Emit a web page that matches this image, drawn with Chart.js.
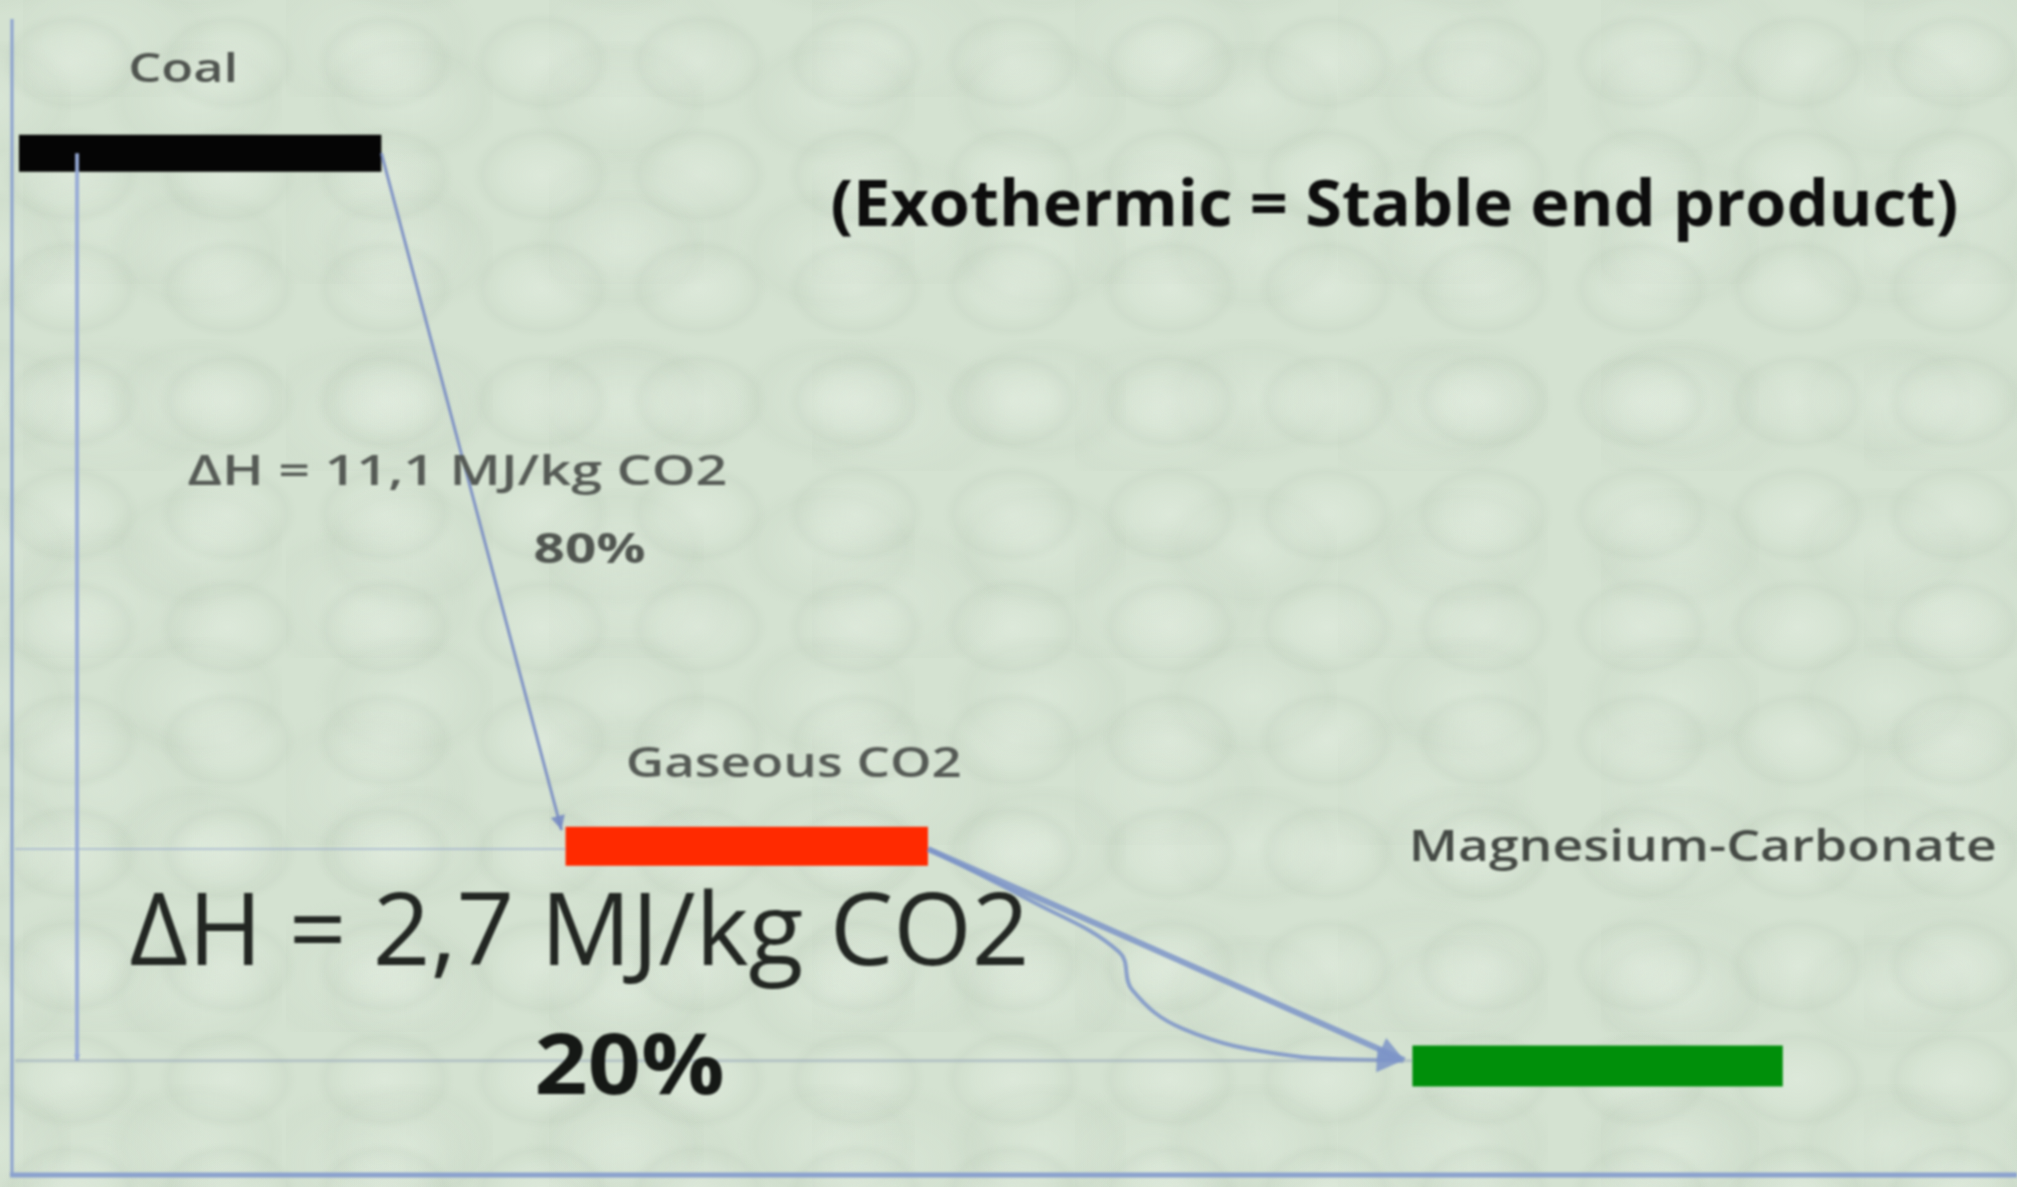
<!DOCTYPE html>
<html lang="en">
<head>
    <meta charset="UTF-8">
    <title>Energy levels</title>
    <script src="https://cdn.jsdelivr.net/npm/chart.js"></script>
    <style>
        body {
            margin: 0;
            padding: 0;
            overflow: hidden;
            background-color: #d4e2d1;
            background-image:
                radial-gradient(ellipse 70px 50px at 45% 55%, rgba(236, 244, 234, 0.35) 0%, rgba(236, 244, 234, 0.1) 55%, rgba(150, 168, 148, 0.08) 85%, transparent 100%),
                radial-gradient(ellipse 95px 65px at 60% 40%, rgba(232, 242, 230, 0.28) 0%, rgba(160, 178, 158, 0.07) 80%, transparent 100%),
                radial-gradient(ellipse 120px 80px at 30% 70%, rgba(228, 238, 226, 0.22) 0%, rgba(165, 180, 162, 0.06) 80%, transparent 100%);
            background-size: 157px 113px, 211px 149px, 263px 187px;
            background-position: 0 0, 71px 41px, 23px 97px;
        }

        #wrap {
            position: relative;
            width: 2017px;
            height: 1187px;
        }

        canvas {
            filter: blur(1.2px);
        }
    </style>
</head>
<body>
    <div id="wrap"><canvas id="diagrama"></canvas></div>

    <script>
        // niveis de energia (eixo y arbitrario, 0 = carbonato)
        var levelNames = ['Coal', 'Gaseous CO2', 'Magnesium-Carbonate'];
        var levelEnergy = [14.0, 3.37, 0.0];
        var levelStart = [0.2, 27.5, 69.8];
        var levelEnd = [18.3, 45.6, 88.3];
        var deltaH = ['11,1', '2,7'];
        var shares = ['80%', '20%'];

        // caminho curvo CO2 -> carbonato
        var curveX = [45.65, 50.65, 55.15, 55.8, 58.35, 63.5, 69.3];
        var curveY = [3.33, 2.55, 1.75, 1.17, 0.57, 0.17, 0.08];

        var barColors = ['#050505', '#ff2a00', '#008f0a'];
        var barWidths = [37, 39, 41];
        var lineBlue = 'rgba(120, 140, 195, 0.9)';

        var datasets = [];

        // linhas de referencia
        datasets.push({
            data: [{ x: 0, y: levelEnergy[1] - 0.04 }, { x: levelStart[1], y: levelEnergy[1] - 0.04 }],
            borderColor: 'rgba(150, 170, 205, 0.55)', borderWidth: 2
        });
        datasets.push({
            data: [{ x: 0, y: levelEnergy[2] + 0.08 }, { x: levelStart[2], y: levelEnergy[2] + 0.08 }],
            borderColor: 'rgba(150, 165, 185, 0.5)', borderWidth: 3
        });

        // seta vertical (delta H total)
        datasets.push({
            data: [{ x: 3.1, y: levelEnergy[0] }, { x: 3.1, y: levelEnergy[2] + 0.08 }],
            borderColor: 'rgba(150, 170, 215, 0.95)', borderWidth: 4, arrow: 4
        });

        // carvao -> CO2
        datasets.push({
            data: [{ x: levelEnd[0], y: levelEnergy[0] }, { x: levelStart[1] - 0.2, y: levelEnergy[1] + 0.25 }],
            borderColor: lineBlue, borderWidth: 3, arrow: 9
        });

        // CO2 -> carbonato (reta)
        datasets.push({
            data: [{ x: levelEnd[1], y: levelEnergy[1] - 0.04 }, { x: levelStart[2] - 0.4, y: levelEnergy[2] + 0.09 }],
            borderColor: 'rgba(125, 148, 200, 0.85)', borderWidth: 6, arrow: 16
        });

        // CO2 -> carbonato (curva)
        datasets.push({
            data: curveX.map(function(x, i) { return { x: x, y: curveY[i] }; }),
            borderColor: 'rgba(125, 148, 200, 0.85)', borderWidth: 4, tension: 0.4, arrow: 16
        });

        // barras dos niveis
        levelNames.forEach(function(nome, i) {
            datasets.push({
                label: nome,
                data: [{ x: levelStart[i], y: levelEnergy[i] }, { x: levelEnd[i], y: levelEnergy[i] }],
                borderColor: barColors[i], borderWidth: barWidths[i], borderCapStyle: 'butt'
            });
        });

        datasets.forEach(function(d) {
            d.showLine = true;
            d.pointRadius = 0;
            d.fill = false;
            d.clip = false;
        });

        function fitText(ctx, texto, cx, cy, size, weight, color, largura) {
            ctx.save();
            ctx.font = weight + ' ' + size + 'px "Open Sans", sans-serif';
            ctx.fillStyle = color;
            ctx.textAlign = 'center';
            ctx.textBaseline = 'middle';
            var w = ctx.measureText(texto).width;
            ctx.translate(cx, cy);
            ctx.scale(largura / w, 1);
            ctx.fillText(texto, 0, 0);
            ctx.restore();
        }

        var extras = {
            id: 'extras',
            beforeDatasetsDraw: function(chart) {
                var ctx = chart.ctx, a = chart.chartArea;
                ctx.save();
                ctx.strokeStyle = 'rgba(135, 158, 205, 0.95)';
                ctx.lineWidth = 3;
                ctx.beginPath();
                ctx.moveTo(a.left - 3, 19);
                ctx.lineTo(a.left - 3, a.bottom);
                ctx.stroke();
                ctx.lineWidth = 5;
                ctx.beginPath();
                ctx.moveTo(a.left - 5, a.bottom + 2);
                ctx.lineTo(a.right, a.bottom + 2);
                ctx.stroke();
                ctx.restore();
            },
            afterDatasetsDraw: function(chart) {
                var ctx = chart.ctx;
                var sx = chart.scales.x, sy = chart.scales.y;

                // pontas de seta
                chart.data.datasets.forEach(function(d) {
                    if (!d.arrow) return;
                    var n = d.data.length;
                    var p1 = d.data[n - 2], p2 = d.data[n - 1];
                    var x1 = sx.getPixelForValue(p1.x), y1 = sy.getPixelForValue(p1.y);
                    var x2 = sx.getPixelForValue(p2.x), y2 = sy.getPixelForValue(p2.y);
                    var ang = Math.atan2(y2 - y1, x2 - x1);
                    var s = d.arrow;
                    ctx.save();
                    ctx.fillStyle = d.borderColor;
                    ctx.translate(x2, y2);
                    ctx.rotate(ang);
                    ctx.beginPath();
                    ctx.moveTo(0, 0);
                    ctx.lineTo(-s * 1.6, -s * 0.8);
                    ctx.lineTo(-s * 1.6, s * 0.8);
                    ctx.closePath();
                    ctx.fill();
                    ctx.restore();
                });

                function px(x) { return sx.getPixelForValue(x); }
                function py(y) { return sy.getPixelForValue(y); }

                fitText(ctx, levelNames[0], px(8.4), py(15.26), 40, '600', '#4f544f', 110);
                fitText(ctx, levelNames[1], px(38.9), py(4.62), 42, '600', '#555a55', 336);
                fitText(ctx, levelNames[2], px(84.3), py(3.33), 44, '600', '#454a45', 588);
                fitText(ctx, '\u0394H = ' + deltaH[0] + ' MJ/kg CO2', px(22.1), py(9.1), 42, '600', '#555a55', 540);
                fitText(ctx, shares[0], px(28.7), py(7.9), 42, '700', '#505550', 112);
                fitText(ctx, '\u0394H = ' + deltaH[1] + ' MJ/kg CO2', px(28.2), py(1.98), 100, '400', '#222622', 900);
                fitText(ctx, shares[1], px(30.7), py(-0.06), 84, '700', '#151815', 190);
                fitText(ctx, '(Exothermic = Stable end product)', px(68.9), py(13.16), 64, '700', '#0d0d0d', 1128);
            }
        };

        new Chart(document.getElementById('diagrama').getContext('2d'), {
            type: 'scatter',
            data: { datasets: datasets },
            options: {
                responsive: true,
                maintainAspectRatio: false,
                animation: false,
                layout: { padding: { left: 15, top: 0, right: 0, bottom: 14 } },
                plugins: { legend: { display: false }, tooltip: { enabled: false } },
                scales: {
                    x: { type: 'linear', min: 0, max: 100, display: false },
                    y: { type: 'linear', min: -1.64, max: 16.35, display: false }
                }
            },
            plugins: [extras]
        });
    </script>
</body>
</html>
